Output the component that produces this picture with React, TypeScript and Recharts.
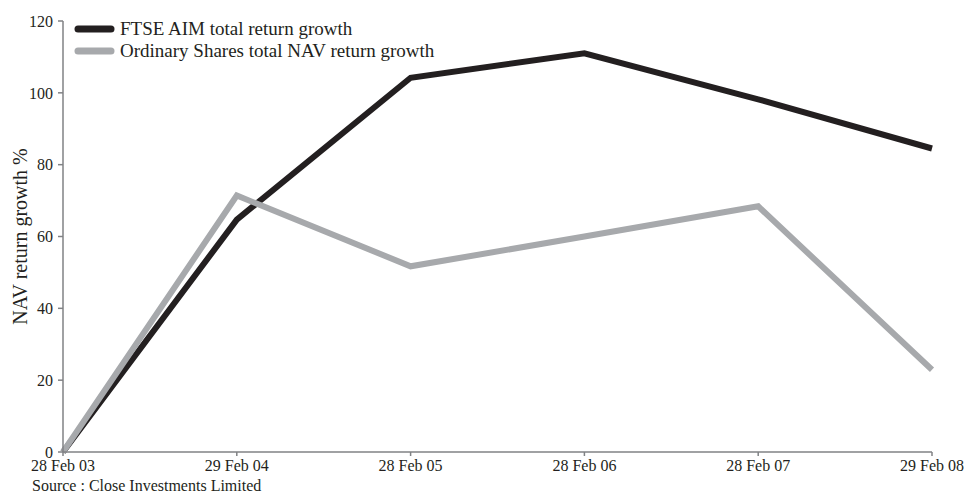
import React from 'react';
import { LineChart, Line, XAxis, YAxis, Label } from 'recharts';

const dates = ['28 Feb 03', '29 Feb 04', '28 Feb 05', '28 Feb 06', '28 Feb 07', '29 Feb 08'];
const ftseAim = [0, 64.7, 104.2, 111, 98.2, 84.5];
const ordinaryNav = [0, 71.4, 51.7, 60, 68.4, 22.9];
const yTicks = [0, 20, 40, 60, 80, 100, 120];

const data = dates.map((date, i) => ({
  date,
  ftse: ftseAim[i],
  nav: ordinaryNav[i],
}));

const FONT = '"Liberation Serif", "Times New Roman", serif';
const TEXT = '#231f20';
const AXIS = '#808285';
const BLACK = '#231f20';
const GREY = '#a7a9ac';

const legendItems = [
  { label: 'FTSE AIM total return growth', color: BLACK },
  { label: 'Ordinary Shares total NAV return growth', color: GREY },
];

// legend sits over the plot, so it doesn't push the axes down
const LegendBox = () => (
  <div
    style={{
      position: 'absolute',
      left: 74,
      top: 18,
      fontFamily: FONT,
      fontSize: 19,
      color: TEXT,
      lineHeight: '22px',
    }}
  >
    {legendItems.map((item) => (
      <div key={item.label} style={{ display: 'flex', alignItems: 'center' }}>
        <svg width={46} height={22}>
          <line x1={4} y1={11} x2={37} y2={11} stroke={item.color} strokeWidth={7} strokeLinecap="round" />
        </svg>
        <span>{item.label}</span>
      </div>
    ))}
  </div>
);

const YTitle = (props: any) => {
  const vb = props.viewBox || { x: 0, y: 0, height: 0 };
  const cx = 20;
  const cy = vb.y + vb.height / 2;
  return (
    <text
      x={cx}
      y={cy}
      transform={`rotate(-90, ${cx}, ${cy})`}
      textAnchor="middle"
      dominantBaseline="central"
      fontFamily={FONT}
      fontSize={20}
      fill={TEXT}
    >
      NAV return growth %
    </text>
  );
};

export default function App() {
  return (
    <div style={{ position: 'absolute', left: 0, top: 0, width: 964, height: 492, overflow: 'hidden', background: '#fff' }}>
      <LineChart width={964} height={492} data={data} margin={{ top: 21, right: 32, left: 0, bottom: 10 }}>
        <XAxis
          dataKey="date"
          stroke={AXIS}
          strokeWidth={1.5}
          tickSize={4}
          tickMargin={4}
          height={30}
          interval={0}
          tick={{ fill: TEXT, fontFamily: FONT, fontSize: 16 }}
        />
        <YAxis
          domain={[0, 120]}
          ticks={yTicks}
          width={63}
          stroke={AXIS}
          strokeWidth={1.5}
          tickSize={5}
          tickMargin={5}
          tick={{ fill: TEXT, fontFamily: FONT, fontSize: 16 }}
        >
          <Label content={<YTitle />} />
        </YAxis>
        <Line
          type="linear"
          dataKey="ftse"
          stroke={BLACK}
          strokeWidth={6}
          dot={false}
          activeDot={false}
          isAnimationActive={false}
        />
        <Line
          type="linear"
          dataKey="nav"
          stroke={GREY}
          strokeWidth={6}
          dot={false}
          activeDot={false}
          isAnimationActive={false}
        />
      </LineChart>
      <LegendBox />
      <div
        style={{
          position: 'absolute',
          left: 32,
          top: 477,
          fontFamily: FONT,
          fontSize: 16,
          color: TEXT,
          whiteSpace: 'nowrap',
        }}
      >
        Source : Close Investments Limited
      </div>
    </div>
  );
}
